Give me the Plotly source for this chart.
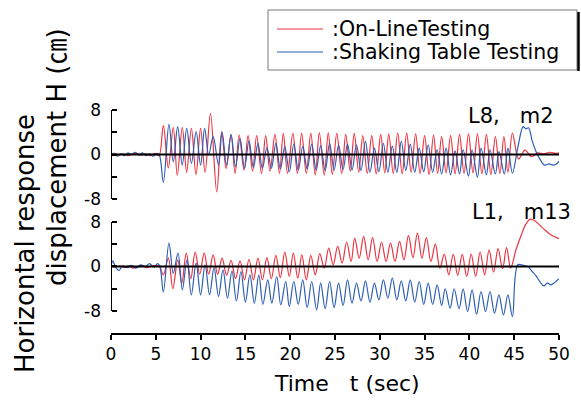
import plotly.graph_objects as go

# ---------------- data ----------------
# Upper panel  (L8, m2)
RED_TOP_T = [0, 0.4, 0.9, 1.4, 1.9, 2.4, 2.9, 3.4, 3.9, 4.4, 4.9, 5.35,
             5.84, 6.4, 6.95, 7.4, 7.96, 8.44, 8.97, 9.49, 10.0, 10.5, 11.1, 11.8,
             12.35, 12.85, 13.4, 13.85, 14.3, 14.85, 15.3, 15.8, 16.26, 16.8, 17.26, 17.75,
             18.3, 18.8, 19.23, 19.7, 20.3, 20.8, 21.28, 21.8, 22.3, 22.8, 23.25, 23.8,
             24.25, 24.7, 25.2, 25.75, 26.2, 26.7, 27.15, 27.65, 28.1, 28.6, 29.1, 29.6,
             30.1, 30.55, 31.0, 31.5, 32.0, 32.5, 33.0, 33.5, 34.0, 34.5, 35.0, 35.5,
             36.0, 36.45, 36.9, 37.4, 37.9, 38.4, 38.9, 39.4, 39.9, 40.4, 40.9, 41.4,
             41.9, 42.4, 42.9, 43.4, 43.85, 44.3, 44.8,
             45.5, 46.2, 46.95, 47.6, 48.3, 49.0, 49.6, 50]
RED_TOP_V = [0, 0.2, -0.1, 0.1, -0.2, 0.1, 0.2, -0.1, 0.1, -0.2, 0.2, -0.2,
             5.2, -2.4, 4.9, -3.7, 4.9, -3.2, 4.7, -3.6, 4.7, -3.2, 7.4, -6.7,
             4.1, -2.5, 3.5, -3.4, 3.5, -2.8, 3.4, -3.0, 3.4, -3.4, 3.4, -3.0,
             3.6, -3.4, 3.8, -3.4, 3.8, -3.4, 3.8, -3.4, 3.8, -3.7, 3.9, -3.7,
             3.9, -3.6, 3.8, -3.4, 3.6, -3.0, 3.8, -3.2, 3.4, -3.4, 3.4, -3.5,
             3.6, -3.3, 3.7, -3.4, 3.85, -3.5, 3.85, -3.2, 3.7, -3.4, 3.4, -3.6,
             3.5, -3.4, 3.2, -3.3, 3.4, -3.5, 3.6, -3.4, 3.7, -3.3, 3.7, -3.5,
             3.6, -3.6, 3.2, -3.4, 3.2, -3.2, 3.85,
             -0.8, 0.8, -0.4, 0.3, 0.1, 0.4, 0.2, 0.3]

BLUE_TOP_T = [0, 0.3, 0.7, 1.1, 1.5, 1.9, 2.3, 2.7, 3.1, 3.5, 3.9, 4.3, 4.7, 5.1, 5.4,
              5.84, 6.47, 6.95, 7.44, 7.95, 8.45, 8.97, 9.5, 10.0, 10.45, 10.9, 11.4,
              12.0, 12.4, 12.9, 13.4, 13.9, 14.4, 14.9, 15.4, 15.9, 16.4, 16.9, 17.4,
              17.9, 18.4, 18.9, 19.4, 19.9, 20.4, 20.9, 21.4, 21.9, 22.4, 22.9, 23.4,
              23.9, 24.4, 24.9, 25.4, 25.9, 26.4, 26.9, 27.4, 27.9, 28.4, 28.9, 29.4,
              29.9, 30.4, 30.9, 31.4, 31.9, 32.4, 32.9, 33.4, 33.9, 34.4, 34.9, 35.4,
              35.9, 36.4, 36.9, 37.4, 37.9, 38.4, 38.9, 39.3, 39.9, 40.3, 40.9, 41.3,
              41.9, 42.3, 42.9, 43.3, 43.9, 44.3, 44.8,
              45.4, 46.0, 46.3, 46.6, 47.0, 47.5, 48.0, 48.4, 48.9, 49.3, 49.7, 50]
BLUE_TOP_V = [-0.2, 0.2, -0.3, 0.1, -0.2, 0.3, 0.0, 0.4, -0.1, 0.3, -0.2, 0.1, -0.3, 0.2, -0.1,
              -5.0, 5.4, -1.3, 5.0, -1.9, 4.7, -1.6, 4.1, -1.9, 4.7, -0.1, 3.2,
              -1.9, 4.0, -1.9, 3.6, -2.2, 2.9, -2.5, 2.45, -2.35, 2.0, -2.5, 1.25,
              -2.5, 2.0, -2.6, 1.4, -3.1, 1.85, -2.8, 1.4, -2.6, 1.85, -2.8, 1.6,
              -2.9, 2.0, -2.8, 1.7, -2.7, 1.85, -2.8, 1.75, -2.9, 2.35, -3.2, 1.15,
              -3.1, 2.0, -3.2, 1.5, -3.2, 2.35, -2.9, 1.85, -3.2, 1.15, -3.1, 1.75,
              -3.2, 0.85, -3.5, 1.15, -3.65, 0.65, -3.5, 0.85, -3.9, 0.85, -4.1, 1.15,
              -3.65, 0.85, -3.5, 0.5, -3.5, 1.15, -3.35,
              1.2, 5.0, 4.6, 4.8, 2.5, 0.3, -1.2, -1.9, -1.7, -1.9, -1.7, -1.2]

# Lower panel  (L1, m13)
RED_BOT_T = [0, 0.5, 1, 1.5, 2, 2.5, 3, 3.5, 4, 4.5, 5, 5.4,
             5.84, 6.4, 6.9, 7.45, 7.9, 8.4, 8.9, 9.4, 9.9, 10.4, 10.9, 11.4,
             11.9, 12.4, 12.9, 13.4, 13.9, 14.4, 14.9, 15.4, 15.9, 16.4, 16.9, 17.4,
             17.9, 18.4, 18.9, 19.4, 19.9, 20.35, 20.85, 21.3, 21.8, 22.3, 22.8, 23.3,
             23.8, 24.3, 24.8, 25.3, 25.8, 26.3, 26.8, 27.2, 27.7, 28.2, 28.7, 29.2,
             29.7, 30.2, 30.7, 31.2, 31.7, 32.2, 32.7, 33.2, 33.7, 34.2, 34.7, 35.2,
             35.7, 36.2, 36.7, 37.2, 37.7, 38.2, 38.7, 39.2, 39.7, 40.2, 40.7, 41.2,
             41.7, 42.2, 42.7, 43.2, 43.7, 44.15, 44.6,
             45.2, 45.8, 46.3, 46.8, 47.3, 48.2, 49.0, 50]
RED_BOT_V = [0, -0.1, 0.1, -0.2, 0.1, -0.3, 0, 0.2, -0.2, 0.1, 0.2, 0.0,
             -1.5, 1.5, -4.0, 1.2, -3.0, 2.4, -2.2, 2.6, -1.4, 2.4, -1.4, 2.1,
             -1.4, 1.5, -1.6, 1.1, -2.2, 1.0, -2.4, 1.3, -2.4, 1.5, -2.4, 1.6,
             -2.2, 2.0, -2.0, 2.6, -1.8, 2.4, -2.1, 2.1, -2.4, 2.0, -1.5, 2.3,
             -0.3, 3.3, 0.3, 3.6, 0.6, 4.4, 0.9, 5.1, 1.5, 5.4, 1.2, 5.2,
             0.9, 4.4, 0.9, 4.2, 0.9, 4.5, 1.2, 5.6, 1.6, 6.0, 1.5, 5.2,
             0.9, 4.0, -0.3, 2.2, -1.5, 2.2, -1.6, 2.2, -1.8, 2.2, -1.8, 2.6,
             -1.5, 3.0, -1.0, 3.2, -0.4, 3.4, -0.3,
             3.0, 5.7, 7.6, 8.5, 8.2, 6.9, 5.8, 5.0]

BLUE_BOT_T = [0, 0.2, 0.5, 0.9, 1.3, 1.8, 2.3, 2.8, 3.3, 3.8, 4.3, 4.8, 5.2, 5.45,
              5.84, 6.47, 6.95, 7.48, 7.96, 8.48, 8.96, 9.5, 10.0, 10.5, 11.0, 11.5,
              12.0, 12.5, 13.0, 13.5, 14.0, 14.5, 15.0, 15.5, 16.0, 16.5, 16.95, 17.5,
              17.95, 18.5, 18.95, 19.5, 19.9, 20.4, 20.9, 21.4, 21.9, 22.4, 22.95, 23.4,
              23.9, 24.4, 24.9, 25.4, 25.9, 26.4, 26.9, 27.4, 27.9, 28.4, 28.9, 29.4,
              29.9, 30.4, 30.9, 31.4, 31.9, 32.4, 32.9, 33.4, 33.9, 34.4, 34.9, 35.4,
              35.9, 36.4, 36.9, 37.3, 37.85, 38.3, 38.85, 39.3, 39.8, 40.3, 40.8, 41.3,
              41.8, 42.3, 42.8, 43.3, 43.8, 44.3, 44.8,
              45.4, 46.0, 46.5, 47.0, 47.4, 47.9, 48.3, 48.7, 49.1, 49.5, 50]
BLUE_BOT_V = [0, 1.0, -0.1, -0.7, 0.1, -0.2, 0.2, -0.3, 0.3, 0.0, 0.5, -0.1, 0.5, 0.1,
              -4.6, 4.2, -1.2, 2.4, -4.2, 1.2, -5.1, 0.6, -5.1, 0.3, -5.1, -0.2,
              -5.4, -0.6, -5.7, -0.8, -6.2, -0.9, -6.4, -1.5, -6.6, -1.5, -6.8, -2.4,
              -6.6, -1.8, -6.9, -2.7, -7.2, -2.7, -6.8, -2.4, -7.4, -2.7, -7.8, -3.0,
              -7.6, -2.7, -7.4, -3.0, -7.0, -2.4, -6.6, -3.0, -6.2, -2.6, -6.4, -3.0,
              -6.0, -2.4, -5.7, -2.1, -6.0, -2.6, -6.2, -2.4, -6.4, -2.7, -6.8, -3.0,
              -6.8, -3.3, -7.0, -4.0, -7.5, -4.0, -7.6, -4.0, -8.1, -4.2, -8.6, -4.5,
              -8.1, -4.5, -8.4, -5.1, -8.7, -5.1, -9.0,
              0.3, 0.2, 0.0, -0.9, -1.6, -2.8, -3.5, -3.0, -3.3, -2.9, -2.2]

X_TICKS = [0, 5, 10, 15, 20, 25, 30, 35, 40, 45, 50]
Y_TICKVALS = [-8, -4, 0, 4, 8]
Y_TICKTEXT = ["-8", "", "0", "", "8"]
SERIES_NAMES = [":On-LineTesting", ":Shaking Table Testing"]
PANEL_LABELS = ["L8,   m2", "L1,   m13"]

# ---------------- style ----------------
RED = "#ec3340"
BLUE = "#2d5db5"
FONT = "DejaVu Sans, Noto Sans CJK JP, sans-serif"
W, H = 581, 401
ML, MR, MT, MB = 111, 22, 100, 67
PW, PH = W - ML - MR, H - MT - MB


def px(x):
    return (x - ML) / PW


def py(y):
    return (H - MB - y) / PH


fig = go.Figure()
traces = [
    (RED_TOP_T, RED_TOP_V, RED, "y", SERIES_NAMES[0]),
    (BLUE_TOP_T, BLUE_TOP_V, BLUE, "y", SERIES_NAMES[1]),
    (RED_BOT_T, RED_BOT_V, RED, "y2", SERIES_NAMES[0]),
    (BLUE_BOT_T, BLUE_BOT_V, BLUE, "y2", SERIES_NAMES[1]),
]
for t, v, c, ya, name in traces:
    fig.add_trace(go.Scatter(
        x=t, y=v, xaxis="x", yaxis=ya, mode="lines", name=name,
        showlegend=False,
        line=dict(color=c, width=1.2, shape="spline", smoothing=1.0),
        hoverinfo="skip"))

axfont = dict(family=FONT, size=17, color="black")
yax = dict(anchor="free", position=0, showline=False, ticks="inside", ticklen=5,
           tickwidth=2, tickcolor="black", tickvals=Y_TICKVALS, ticktext=Y_TICKTEXT,
           showgrid=False, zeroline=False, tickfont=axfont, ticklabelstandoff=10)
fig.update_layout(
    width=W, height=H,
    margin=dict(l=ML, r=MR, t=MT, b=MB, pad=0),
    paper_bgcolor="white", plot_bgcolor="white",
    font=dict(family=FONT, color="black"),
    showlegend=False,
    xaxis=dict(range=[0, 50], anchor="free", position=0, showline=True,
               linecolor="black", linewidth=1.5, ticks="outside", ticklen=5,
               tickwidth=1.5, tickcolor="black", tickvals=X_TICKS,
               showgrid=False, zeroline=False, tickfont=axfont),
    yaxis=dict(domain=[py(200.7), py(108.3)], range=[-8.3, 8.3], **yax),
    yaxis2=dict(domain=[py(319.9), py(216.4)], range=[-9.6, 9.0], **yax),
)

shapes = []
for ya in ["y", "y2"]:
    shapes.append(dict(type="line", xref="x", yref=ya, x0=0, x1=0, y0=-8, y1=8,
                       line=dict(color="black", width=2), layer="above"))
    shapes.append(dict(type="line", xref="x", yref=ya, x0=0, x1=50, y0=0, y1=0,
                       line=dict(color="black", width=2.2), layer="above"))
# legend box (drawn by hand, like the original)
shapes.append(dict(type="rect", xref="paper", yref="paper",
                   x0=px(268), x1=px(577), y0=py(70), y1=py(10),
                   line=dict(color="#777", width=1), fillcolor="white", layer="above"))
shapes.append(dict(type="line", xref="paper", yref="paper",
                   x0=px(578.5), x1=px(578.5), y0=py(71), y1=py(12),
                   line=dict(color="black", width=2.5), layer="above"))
for i, c in enumerate([RED, BLUE]):
    yy = py(29 + 23 * i)
    shapes.append(dict(type="line", xref="paper", yref="paper",
                       x0=px(277), x1=px(323), y0=yy, y1=yy,
                       line=dict(color=c, width=1.2), layer="above"))
fig.update_layout(shapes=shapes)

ann = []
for i, name in enumerate(SERIES_NAMES):
    ann.append(dict(text=name, x=px(330), y=py(29 + 23 * i), xref="paper", yref="paper",
                    xanchor="left", yanchor="middle", showarrow=False,
                    font=dict(family=FONT, size=20.5, color="black")))
ann += [
    dict(text=PANEL_LABELS[0], x=px(556), y=py(116), xref="paper", yref="paper",
         xanchor="right", yanchor="middle", showarrow=False,
         font=dict(family=FONT, size=21, color="black")),
    dict(text=PANEL_LABELS[1], x=px(573), y=py(212), xref="paper", yref="paper",
         xanchor="right", yanchor="middle", showarrow=False,
         font=dict(family=FONT, size=21, color="black")),
    dict(text="Time   t (sec)", x=px(347), y=py(383), xref="paper", yref="paper",
         xanchor="center", yanchor="middle", showarrow=False,
         font=dict(family=FONT, size=22, color="black")),
    dict(text="Horizontal response", x=px(25), y=py(244), xref="paper", yref="paper",
         xanchor="center", yanchor="middle", showarrow=False, textangle=-90,
         font=dict(family=FONT, size=26, color="black")),
    dict(text="displacement H (㎝)", x=px(57), y=py(157), xref="paper", yref="paper",
         xanchor="center", yanchor="middle", showarrow=False, textangle=-90,
         font=dict(family=FONT, size=26, color="black")),
]
fig.update_layout(annotations=ann)

fig.write_html(
    "out.html",
    config={"displayModeBar": False},
    post_script="document.body.style.margin='0px';"
                "document.documentElement.style.overflow='hidden';")
